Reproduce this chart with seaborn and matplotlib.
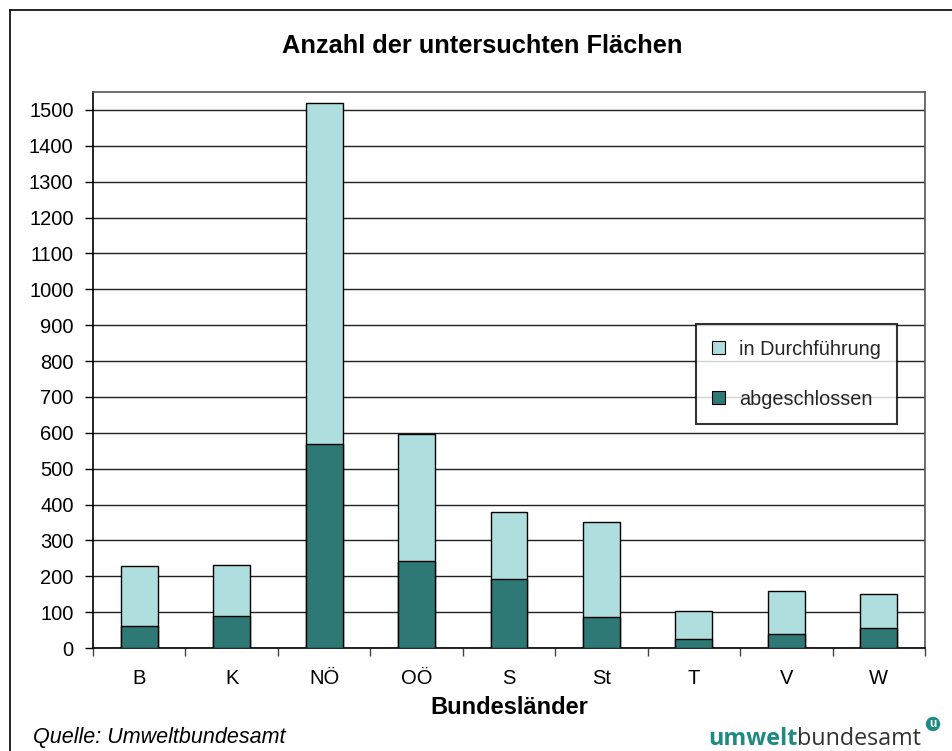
import pandas as pd
import numpy as np
import matplotlib.pyplot as plt
import seaborn as sns
from matplotlib.lines import Line2D
from matplotlib.patches import Patch

laender = ['B', 'K', 'NÖ', 'OÖ', 'S', 'St', 'T', 'V', 'W']
abgeschlossen = [60, 88, 570, 242, 192, 87, 24, 39, 55]
in_durchfuehrung = [168, 143, 948, 354, 188, 265, 79, 120, 96]

hell = '#aedfde'
dunkel = '#2e7876'

sns.set_theme(style='white')
plt.rcParams['font.family'] = ['Liberation Sans', 'DejaVu Sans']

dados = pd.DataFrame({
    'land': laender,
    'abgeschlossen': abgeschlossen,
    'in_durchfuehrung': in_durchfuehrung,
})
dados['gesamt'] = dados['abgeschlossen'] + dados['in_durchfuehrung']

fig = plt.figure(figsize=(9.52, 7.51), dpi=100)
ax = fig.add_axes([93 / 952, 1 - 648 / 751, 832 / 952, 556 / 751])

sns.barplot(data=dados, x='land', y='gesamt', color=hell, width=0.4,
            edgecolor='black', linewidth=1, saturation=1, ax=ax, zorder=3)
sns.barplot(data=dados, x='land', y='abgeschlossen', color=dunkel, width=0.4,
            edgecolor='black', linewidth=1, saturation=1, ax=ax, zorder=3)

ax.set_xlim(-0.5, len(laender) - 0.5)
ax.set_ylim(0, 1550)
ax.set_yticks(np.arange(0, 1600, 100))
ax.yaxis.grid(True, color='#222222', linewidth=1)
ax.set_axisbelow(True)

ax.tick_params(axis='y', which='major', direction='out', length=6, width=1,
               color='black', labelsize=14.5, pad=8, left=True)
ax.tick_params(axis='x', which='major', length=0, labelsize=14.5, pad=15)
ax.set_xticks(np.arange(-0.5, len(laender), 1), minor=True)
ax.tick_params(axis='x', which='minor', direction='out', length=6, width=1,
               color='#444444', bottom=True)
for lab in ax.get_xticklabels() + ax.get_yticklabels():
    lab.set_color('black')

for s in ['left', 'bottom']:
    ax.spines[s].set_color('black')
    ax.spines[s].set_linewidth(1.2)
for s in ['top', 'right']:
    ax.spines[s].set_color('#555555')
    ax.spines[s].set_linewidth(1.2)

ax.set_ylabel('')
ax.set_xlabel('Bundesländer', fontsize=17, fontweight='bold', color='black', labelpad=6)

handles = [
    Patch(facecolor=hell, edgecolor='black', linewidth=0.8, label='in Durchführung'),
    Patch(facecolor=dunkel, edgecolor='black', linewidth=0.8, label='abgeschlossen'),
]
leg = ax.legend(handles=handles, loc='upper left', bbox_to_anchor=(0.725, 0.583),
                fontsize=14.3, frameon=True, fancybox=False, edgecolor='black',
                handlelength=0.65, handleheight=0.65, handletextpad=0.7,
                labelspacing=1.55, borderpad=0.8, borderaxespad=0)
leg.get_frame().set_linewidth(1.5)

fig.text(482 / 952, 1 - 46 / 751, 'Anzahl der untersuchten Flächen', ha='center', va='center',
         fontsize=18.3, fontweight='bold', color='black')

fig.text(33 / 952, 1 - 738 / 751, 'Quelle: Umweltbundesamt', ha='left', va='center',
         fontsize=15.5, fontstyle='italic', color='black')

# Logo
t1 = fig.text(708 / 952, 1 - 745 / 751, 'umwelt', ha='left', va='baseline',
              fontsize=16.8, fontweight='bold', color='#1f8a84',
              family=['Open Sans', 'DejaVu Sans'])
fig.canvas.draw()
bb = t1.get_window_extent(fig.canvas.get_renderer())
fig.text(bb.x1 / 952, 1 - 745 / 751, 'bundesamt', ha='left', va='baseline',
         fontsize=16.8, color='#333333', family=['Open Sans', 'DejaVu Sans'])
fig.text(933 / 952, 1 - 724 / 751, 'u', ha='center', va='center', fontsize=8.5,
         fontweight='bold', color='white',
         bbox=dict(boxstyle='circle,pad=0.1', facecolor='#1f8a84', edgecolor='none'))

# Rahmen
fig.add_artist(Line2D([9.5 / 952, 9.5 / 952], [0, 1 - 9.5 / 751], transform=fig.transFigure,
                      color='black', linewidth=1.2))
fig.add_artist(Line2D([9.5 / 952, 1], [1 - 9.5 / 751, 1 - 9.5 / 751], transform=fig.transFigure,
                      color='black', linewidth=1.2))

fig.savefig('out.png', dpi=100, facecolor='white')
